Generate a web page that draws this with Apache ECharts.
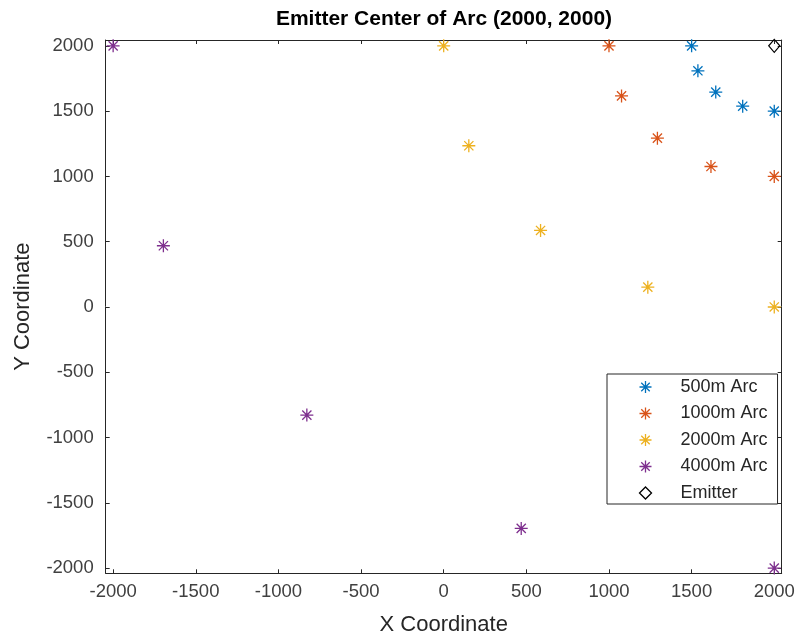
<!DOCTYPE html>
<html>
<head>
<meta charset="utf-8">
<script src="https://cdn.jsdelivr.net/npm/echarts@6/dist/echarts.min.js"></script>
<style>html,body{margin:0;padding:0;background:#fff}#c{width:801px;height:644px}</style>
</head>
<body>
<div id="c"></div>
<script>
const seriesNames = ['500m Arc', '1000m Arc', '2000m Arc', '4000m Arc', 'Emitter'];
const arc500X = [1500, 1538, 1646, 1809, 2000];
const arc500Y = [2000, 1809, 1646, 1538, 1500];
const arc1000X = [1000, 1076, 1293, 1617, 2000];
const arc1000Y = [2000, 1617, 1293, 1076, 1000];
const arc2000X = [0, 152, 586, 1235, 2000];
const arc2000Y = [2000, 1235, 586, 152, 0];
const arc4000X = [-2000, -1696, -828, 469, 2000];
const arc4000Y = [2000, 469, -828, -1696, -2000];
const emitterX = [2000];
const emitterY = [2000];
const xTicks = [-2000, -1500, -1000, -500, 0, 500, 1000, 1500, 2000];
const yTicks = [-2000, -1500, -1000, -500, 0, 500, 1000, 1500, 2000];
const colors = ['#0072BD', '#D95319', '#EDB120', '#7E2F8E', '#000000'];

const FONT = '"Liberation Sans", Arial, Helvetica, sans-serif';
const star = 'path://M0,6L12,6M6,0L6,12M1.76,1.76L10.24,10.24M1.76,10.24L10.24,1.76';
const pairs = (xs, ys) => xs.map((x, i) => [x, ys[i]]);
const allX = [arc500X, arc1000X, arc2000X, arc4000X, emitterX];
const allY = [arc500Y, arc1000Y, arc2000Y, arc4000Y, emitterY];

const series = seriesNames.map((name, i) => ({
  type: 'scatter',
  name: name,
  xAxisIndex: 0, yAxisIndex: 0,
  data: pairs(allX[i], allY[i]),
  symbol: i < 4 ? star : 'diamond',
  symbolSize: i < 4 ? 13 : [11, 13],
  clip: false,
  itemStyle: { color: 'none', borderColor: colors[i], borderWidth: 1.3, opacity: 1 },
  emphasis: { disabled: true },
  z: i < 4 ? 2 : 3
}));

const tickStyle = { show: true, inside: true, length: 4, lineStyle: { color: '#262626', width: 1 } };
const lineStyle = { show: true, onZero: false, lineStyle: { color: '#262626', width: 1 } };
const plain = v => String(v);

const option = {
  animation: false,
  backgroundColor: '#fff',
  title: {
    text: 'Emitter Center of Arc (2000, 2000)',
    left: 444, top: 9, padding: 0, textAlign: 'center',
    textStyle: { fontFamily: FONT, fontSize: 21, fontWeight: 'bold', color: '#000' }
  },
  grid: { left: 105.7, right: 19.3, top: 40, bottom: 70.7, containLabel: false },
  legend: {
    orient: 'vertical',
    left: 607, top: 374,
    padding: [4, 10, 2, 30],
    itemGap: 8.5, itemWidth: 12, itemHeight: 12,
    backgroundColor: '#fff', borderColor: '#262626', borderWidth: 1,
    selectedMode: false,
    textStyle: { fontFamily: FONT, fontSize: 18, color: '#262626', lineHeight: 18, padding: [0, 0, 0, 24] },
    data: seriesNames.map((n, i) => ({
      name: n,
      icon: i < 4 ? star : 'diamond',
      itemStyle: { color: 'none', borderColor: colors[i], borderWidth: 1.3 }
    }))
  },
  xAxis: [
    {
      type: 'value', position: 'bottom', min: -2045, max: 2045,
      name: 'X Coordinate', nameLocation: 'middle', nameGap: 41,
      nameTextStyle: { fontFamily: FONT, fontSize: 22, color: '#262626' },
      axisLine: lineStyle,
      axisTick: Object.assign({ customValues: xTicks }, tickStyle),
      axisLabel: { customValues: xTicks, formatter: plain, margin: 9, fontFamily: FONT, fontSize: 18.5, color: '#404040' },
      splitLine: { show: false }
    },
    {
      type: 'value', position: 'top', min: -2045, max: 2045,
      axisLine: lineStyle,
      axisTick: Object.assign({ customValues: xTicks }, tickStyle),
      axisLabel: { show: false },
      splitLine: { show: false }
    }
  ],
  yAxis: [
    {
      type: 'value', position: 'left', min: -2040, max: 2045,
      name: 'Y Coordinate', nameLocation: 'middle', nameGap: 72,
      nameTextStyle: { fontFamily: FONT, fontSize: 22, color: '#262626' },
      axisLine: lineStyle,
      axisTick: Object.assign({ customValues: yTicks }, tickStyle),
      axisLabel: { customValues: yTicks, formatter: plain, margin: 12, fontFamily: FONT, fontSize: 18.5, color: '#404040' },
      splitLine: { show: false }
    },
    {
      type: 'value', position: 'right', min: -2040, max: 2045,
      axisLine: lineStyle,
      axisTick: Object.assign({ customValues: yTicks }, tickStyle),
      axisLabel: { show: false },
      splitLine: { show: false }
    }
  ],
  series: series
};

const chart = echarts.init(document.getElementById('c'), null, { renderer: 'canvas' });
chart.setOption(option);
</script>
</body>
</html>
